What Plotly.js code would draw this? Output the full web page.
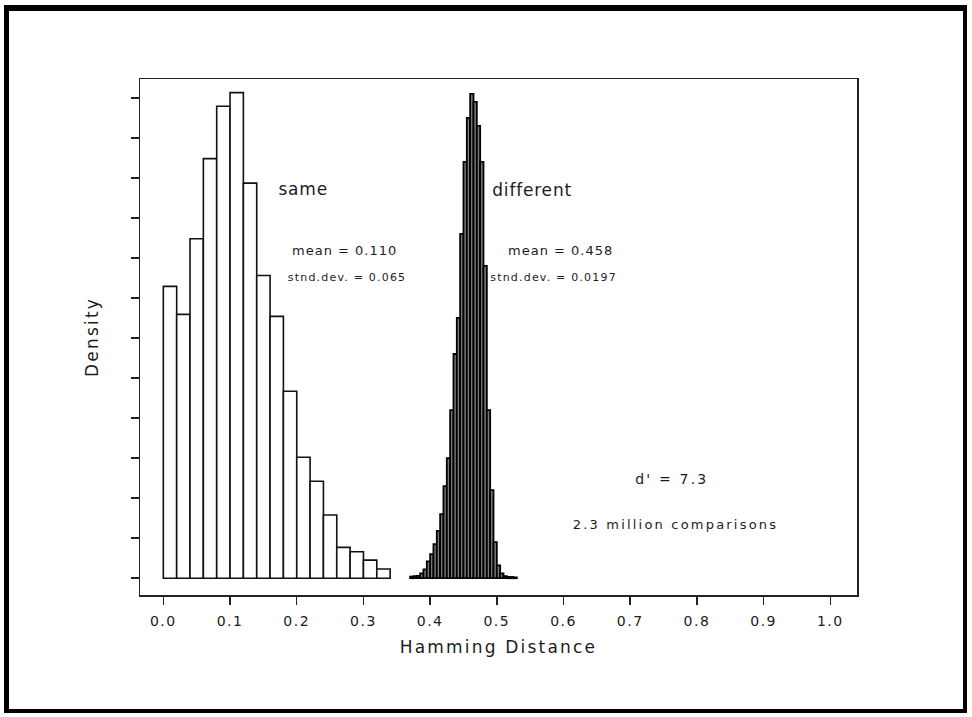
<!DOCTYPE html>
<html>
<head>
<meta charset="utf-8">
<script src="https://cdn.plot.ly/plotly-3.0.1.min.js"></script>
<style>
  html, body { margin: 0; padding: 0; background: #fff; }
  #wrap { position: relative; width: 972px; height: 717px; overflow: hidden; }
  #chart { position: absolute; left: 0; top: 0; width: 972px; height: 717px; }
  #frame {
    position: absolute; left: 4px; top: 5px; width: 963px; height: 708px;
    box-sizing: border-box; border-style: solid; border-color: #000;
    border-width: 6px 4px 4px 5px; pointer-events: none;
  }
  .xtick text { letter-spacing: 1.5px; }
  .g-xtitle text, .g-ytitle text { letter-spacing: 2.2px; }
  .annotation[data-index="0"] text, .annotation[data-index="3"] text { letter-spacing: 0.8px; }
  .annotation[data-index="1"] text, .annotation[data-index="4"] text { letter-spacing: 1px; }
  .annotation[data-index="2"] text, .annotation[data-index="5"] text { letter-spacing: 1.2px; }
  .annotation[data-index="6"] text, .annotation[data-index="7"] text { letter-spacing: 2.2px; }
</style>
</head>
<body>
<div id="wrap">
  <div id="chart"></div>
  <div id="frame"></div>
</div>
<script>
// "same" (same-eye) histogram, bin width 0.02
const sameBinCenters = [0.01, 0.03, 0.05, 0.07, 0.09, 0.11, 0.13, 0.15, 0.17, 0.19, 0.21, 0.23, 0.25, 0.27, 0.29, 0.31, 0.33];
const sameBinWidth = 0.02;
const sameDensity = [7.29, 6.59, 8.48, 10.48, 11.79, 12.13, 9.87, 7.56, 6.54, 4.67, 3.02, 2.42, 1.58, 0.77, 0.66, 0.45, 0.23];

// "different" (different-eye) histogram, bin width 0.005
const diffBinCenters = [0.3725, 0.3775, 0.3825, 0.3875, 0.3925, 0.3975, 0.4025, 0.4075, 0.4125, 0.4175,
                        0.4225, 0.4275, 0.4325, 0.4375, 0.4425, 0.4475, 0.4525, 0.4575, 0.4625, 0.4675,
                        0.4725, 0.4775, 0.4825, 0.4875, 0.4925, 0.4975, 0.5025, 0.5075, 0.5125, 0.5175,
                        0.5225, 0.5275];
const diffBinWidth = 0.005;
const diffDensity = [0.04, 0.05, 0.06, 0.12, 0.22, 0.42, 0.6, 0.85, 1.18, 1.6,
                     2.3, 3.0, 4.2, 5.6, 6.5, 8.6, 10.4, 11.5, 12.1, 11.9,
                     11.3, 10.4, 7.8, 4.2, 2.2, 0.9, 0.32, 0.12, 0.05, 0.03,
                     0.03, 0.02];

const xTickVals = [0, 0.1, 0.2, 0.3, 0.4, 0.5, 0.6, 0.7, 0.8, 0.9, 1.0];
const xTickText = ["0.0", "0.1", "0.2", "0.3", "0.4", "0.5", "0.6", "0.7", "0.8", "0.9", "1.0"];
const yTickVals = [0, 1, 2, 3, 4, 5, 6, 7, 8, 9, 10, 11, 12];

const textFont = "DejaVu Sans, Liberation Sans, Arial, sans-serif";
const ink = "#1c1c1c";

const traces = [
  {
    type: "bar", name: "same",
    x: sameBinCenters, y: sameDensity,
    width: sameBinCenters.map(() => sameBinWidth),
    marker: { color: "#ffffff", line: { color: "#111", width: 1.6 } },
    hoverinfo: "skip"
  },
  {
    type: "bar", name: "different",
    x: diffBinCenters, y: diffDensity,
    width: diffBinCenters.map(() => diffBinWidth),
    marker: { color: "#7a7a7a", line: { color: "#000", width: 1.8 } },
    hoverinfo: "skip"
  }
];

const ann = (text, x, y, size) => ({
  text: text, x: x, y: y, xref: "x", yref: "y", showarrow: false,
  xanchor: "center", yanchor: "middle",
  font: { family: textFont, size: size, color: ink }
});

const layout = {
  width: 972, height: 717,
  margin: { l: 140, r: 115, t: 79, b: 122, pad: 0 },
  paper_bgcolor: "#ffffff", plot_bgcolor: "#ffffff",
  showlegend: false,
  barmode: "overlay",
  bargap: 0,
  xaxis: {
    range: [-0.035, 1.04],
    tickvals: xTickVals, ticktext: xTickText,
    ticks: "outside", ticklen: 8, tickwidth: 1.5, tickcolor: "#222",
    ticklabelstandoff: 5,
    showgrid: false, zeroline: false,
    showline: true, mirror: true, linecolor: "#222", linewidth: 1.5,
    tickfont: { family: textFont, size: 14, color: ink },
    title: { text: "Hamming Distance", font: { family: textFont, size: 17, color: ink }, standoff: 13 },
    fixedrange: true
  },
  yaxis: {
    range: [-0.42, 12.47],
    tickvals: yTickVals, showticklabels: false,
    ticks: "outside", ticklen: 8, tickwidth: 1.5, tickcolor: "#222",
    showgrid: false, zeroline: false,
    showline: true, mirror: true, linecolor: "#222", linewidth: 1.5,
    title: { text: "Density", font: { family: textFont, size: 17, color: ink }, standoff: 27 },
    fixedrange: true
  },
  annotations: [
    ann("same", 0.209, 9.72, 17),
    ann("mean = 0.110", 0.271, 8.19, 13),
    ann("stnd.dev. = 0.065", 0.2755, 7.52, 11),
    ann("different", 0.554, 9.7, 17),
    ann("mean = 0.458", 0.595, 8.19, 13),
    ann("stnd.dev. = 0.0197", 0.585, 7.52, 11),
    ann("d' = 7.3", 0.763, 2.48, 14),
    ann("2.3 million comparisons", 0.768, 1.33, 13)
  ]
};

Plotly.newPlot("chart", traces, layout, { displayModeBar: false, staticPlot: true });
</script>
</body>
</html>
